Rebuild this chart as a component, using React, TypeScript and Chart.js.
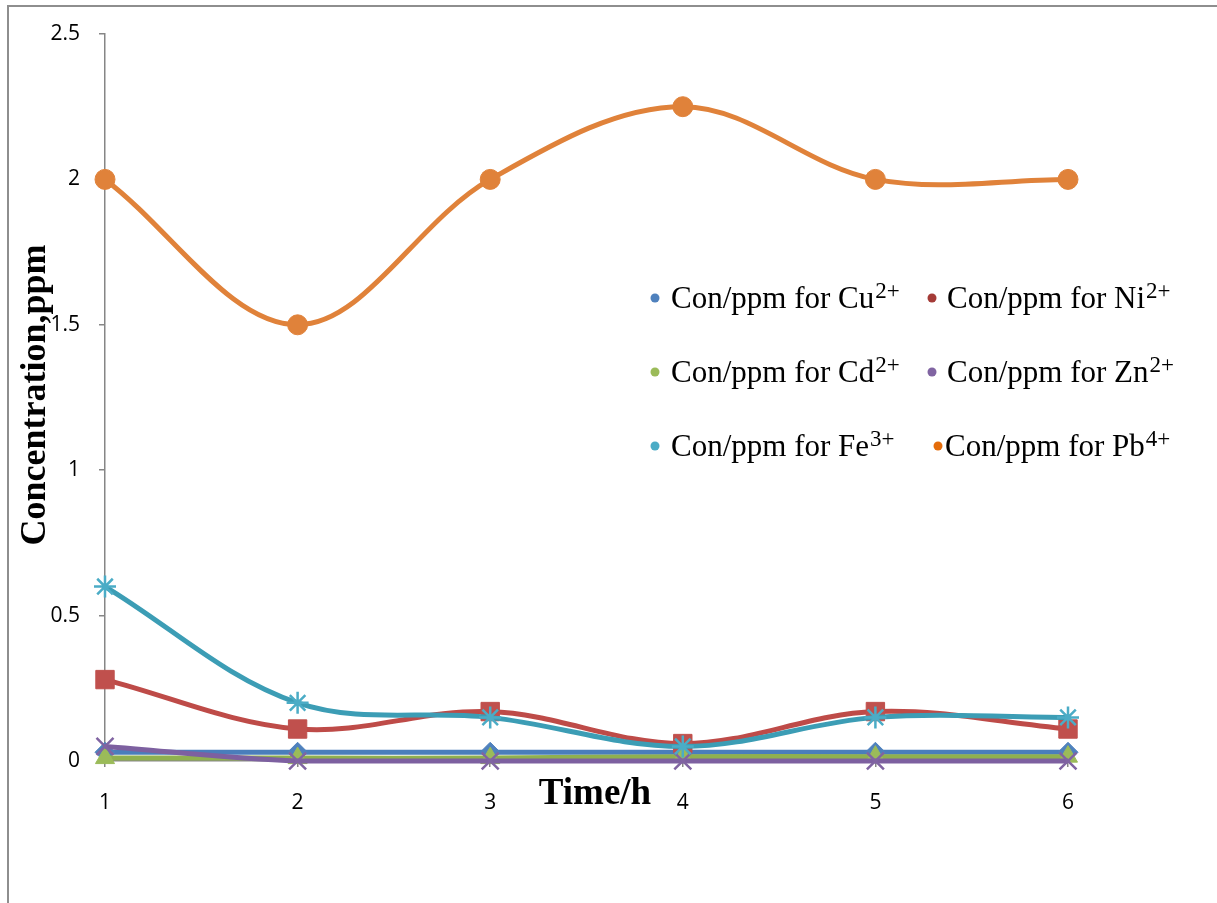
import { useEffect, useRef } from "react";
import { Chart, registerables } from "chart.js";

Chart.register(...registerables);

const timeLabels = ["1", "2", "3", "4", "5", "6"];
const cuValues = [0.03, 0.03, 0.03, 0.03, 0.03, 0.03];
const niValues = [0.28, 0.11, 0.17, 0.06, 0.17, 0.11];
const cdValues = [0.01, 0.01, 0.01, 0.015, 0.015, 0.015];
const znValues = [0.05, 0.0, 0.0, 0.0, 0.0, 0.0];
const feValues = [0.6, 0.2, 0.15, 0.05, 0.15, 0.15];
const pbValues = [2.0, 1.5, 2.0, 2.25, 2.0, 2.0];

const seriesIons = ["Cu", "Ni", "Cd", "Zn", "Fe", "Pb"];
const seriesCharges = ["2+", "2+", "2+", "2+", "3+", "4+"];
const seriesLineColors = ["#4A7EBB", "#BE4B48", "#8FB04F", "#7D60A0", "#3C9DB5", "#E0823A"];
const seriesMarkerColors = ["#4F81BD", "#C0504D", "#9BBB59", "#8064A2", "#4BACC6", "#E0823A"];
const legendDotColors = ["#4F81BD", "#A43B37", "#9BBB59", "#8064A2", "#4BACC6", "#E46C0A"];
const seriesMarkers = ["rectRot", "rect", "triangle", "crossRot", "star", "circle"];
const seriesMarkerSizes = [10, 13, 11, 12, 11, 10];

const yTitle = "Concentration,ppm";
const xTitle = "Time/h";

const SERIF = '"Liberation Serif", "Times New Roman", serif';

const decorPlugin = {
  id: "decor",
  beforeDraw(chart: any) {
    const ctx = chart.ctx;
    ctx.save();
    ctx.strokeStyle = "#8E8E8E";
    ctx.lineWidth = 2;
    ctx.beginPath();
    ctx.moveTo(8, chart.height);
    ctx.lineTo(8, 6);
    ctx.lineTo(chart.width, 6);
    ctx.stroke();
    ctx.restore();
  },
  afterDraw(chart: any) {
    const ctx = chart.ctx;
    ctx.save();
    ctx.fillStyle = "#000";
    ctx.font = `bold 36px ${SERIF}`;
    ctx.textAlign = "center";
    ctx.textBaseline = "middle";
    ctx.translate(36, 395);
    ctx.rotate(-Math.PI / 2);
    ctx.fillText(yTitle, 0, 0);
    ctx.restore();

    ctx.save();
    ctx.fillStyle = "#000";
    ctx.font = `bold 37px ${SERIF}`;
    ctx.textAlign = "center";
    ctx.textBaseline = "alphabetic";
    ctx.fillText(xTitle, 595, 804);
    ctx.restore();

    const rows = [308, 382, 456];
    const colDot = [655, 932];
    const colText = [671, 947];
    ctx.save();
    for (let i = 0; i < seriesIons.length; i++) {
      const r = Math.floor(i / 2);
      const c = i % 2;
      let dx = colDot[c];
      let tx = colText[c];
      if (i === 5) {
        dx = 938;
        tx = 945;
      }
      const by = rows[r];
      ctx.fillStyle = legendDotColors[i];
      ctx.beginPath();
      ctx.arc(dx, by - 10, 4.5, 0, Math.PI * 2);
      ctx.fill();
      ctx.fillStyle = "#000";
      ctx.textAlign = "left";
      ctx.textBaseline = "alphabetic";
      ctx.font = `31px ${SERIF}`;
      const main = `Con/ppm for ${seriesIons[i]}`;
      ctx.fillText(main, tx, by);
      const w = ctx.measureText(main).width;
      ctx.font = `23px ${SERIF}`;
      ctx.fillText(seriesCharges[i], tx + w + 1, by - 10);
    }
    ctx.restore();
  },
};

export default function App() {
  const ref = useRef<HTMLCanvasElement | null>(null);

  useEffect(() => {
    if (!ref.current) return;
    const allValues = [cuValues, niValues, cdValues, znValues, feValues, pbValues];
    const datasets = allValues.map((vals, i) => ({
      label: `Con/ppm for ${seriesIons[i]}${seriesCharges[i]}`,
      data: vals,
      borderColor: seriesLineColors[i],
      backgroundColor: seriesMarkerColors[i],
      pointBackgroundColor: seriesMarkerColors[i],
      pointBorderColor: seriesMarkerColors[i],
      pointBorderWidth: seriesMarkers[i] === "crossRot" || seriesMarkers[i] === "star" ? 2.5 : 1,
      pointStyle: seriesMarkers[i],
      pointRadius: seriesMarkerSizes[i],
      borderWidth: 5,
      tension: 0.35,
      clip: false,
      order: 5 - i,
    }));

    const chart = new Chart(ref.current, {
      type: "line",
      data: { labels: timeLabels, datasets },
      plugins: [decorPlugin],
      options: {
        animation: false,
        responsive: false,
        maintainAspectRatio: false,
        events: [],
        layout: { padding: { top: 34, right: 149, left: 0, bottom: 0 } },
        plugins: {
          legend: { display: false },
          tooltip: { enabled: false },
          title: { display: false },
        },
        scales: {
          x: {
            type: "category",
            offset: false,
            afterFit(scale: any) {
              scale.height = 142;
            },
            grid: {
              display: true,
              drawOnChartArea: false,
              drawTicks: true,
              tickLength: 6,
              color: "#868686",
              lineWidth: 1.5,
            },
            border: { display: true, color: "#868686", width: 1.5 },
            ticks: {
              color: "#000",
              font: { family: '"Open Sans", sans-serif', size: 21 },
              padding: 23,
              maxRotation: 0,
            },
          },
          y: {
            min: 0,
            max: 2.5,
            afterFit(scale: any) {
              scale.width = 105;
            },
            grid: {
              display: true,
              drawOnChartArea: false,
              drawTicks: true,
              tickLength: 6,
              color: "#868686",
              lineWidth: 1.5,
            },
            border: { display: true, color: "#868686", width: 1.5 },
            ticks: {
              stepSize: 0.5,
              color: "#000",
              font: { family: '"Open Sans", sans-serif', size: 21 },
              padding: 19,
              callback: (v: any) => String(v),
            },
          },
        },
      },
    });
    return () => chart.destroy();
  }, []);

  return (
    <div style={{ position: "absolute", left: 0, top: 0, width: 1217, height: 903, background: "#fff" }}>
      <canvas ref={ref} width={1217} height={903} style={{ width: 1217, height: 903, display: "block" }} />
    </div>
  );
}
